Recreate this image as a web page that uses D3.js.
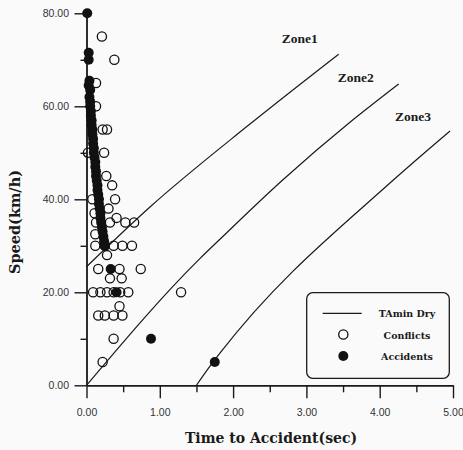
<!DOCTYPE html>
<html>
<head>
<meta charset="utf-8">
<script src="https://cdn.jsdelivr.net/npm/d3@7"></script>
<style>
  body { margin: 0; background: #fafafa; }
  .tick text { font-family: "Liberation Sans", Arial, sans-serif; font-size: 10.5px; fill: #333; }
</style>
</head>
<body>
<div id="chart"></div>
<script>
// conflicts (open circles): [time to accident sec, speed km/h]
var conflicts = [
  [0.21, 75], [0.38, 70], [0.13, 65], [0.13, 60], [0.22, 55], [0.28, 55],
  [0.02, 50], [0.24, 50], [0.27, 45], [0.35, 43], [0.08, 40], [0.39, 40],
  [0.11, 37], [0.30, 38], [0.41, 36], [0.13, 35], [0.32, 35], [0.53, 35],
  [0.65, 35], [0.12, 32.5], [0.12, 30], [0.25, 30], [0.37, 30], [0.49, 30],
  [0.62, 30], [0.28, 28], [0.16, 25], [0.45, 25], [0.74, 25], [0.32, 23],
  [0.48, 23], [0.09, 20], [0.19, 20], [0.28, 20], [0.37, 20], [0.46, 20],
  [0.57, 20], [1.29, 20], [0.45, 17], [0.16, 15], [0.25, 15], [0.37, 15],
  [0.49, 15], [0.37, 10], [0.22, 5]
];

// accidents (filled circles)
var accidents = [
  [0.01, 80], [0.03, 71.5], [0.03, 70], [0.04, 65.5], [0.03, 64.5], [0.05, 63.5],
  [0.04, 62], [0.05, 61], [0.05, 60], [0.06, 59], [0.06, 58], [0.07, 57],
  [0.07, 56], [0.08, 55], [0.08, 54], [0.09, 53], [0.09, 52], [0.10, 51],
  [0.10, 50], [0.11, 49], [0.12, 48], [0.12, 47], [0.13, 46], [0.13, 45],
  [0.14, 44], [0.15, 43], [0.15, 42], [0.16, 41], [0.17, 40], [0.17, 39],
  [0.18, 38], [0.19, 37], [0.19, 36], [0.20, 35], [0.21, 34], [0.22, 33],
  [0.23, 32], [0.24, 31], [0.25, 30], [0.33, 25], [0.41, 20], [0.88, 10],
  [1.75, 5]
];

// TAmin Dry boundary curves
var zone1 = [[0, 25.5], [0.87, 38.4], [2.2, 55.8], [3.44, 71.2]];
var zone2 = [[0, 0], [1.55, 27.3], [1.82, 31.4], [2.68, 44.2], [3.59, 56.5], [4.26, 64.8]];
var zone3 = [[1.5, 0], [1.68, 4.0], [1.82, 6.9], [4.19, 44.2], [4.96, 54.7]];
var zoneNames = ['Zone1', 'Zone2', 'Zone3'];

var xTicks = [0, 1, 2, 3, 4, 5];
var xMinor = [0.5, 1.5, 2.5, 3.5, 4.5];
var yTicks = [0, 20, 40, 60, 80];
var yMinor = [10, 30, 50, 70];

var width = 463, height = 450;
var margin = {top: 13.3, right: 10, bottom: 64.7, left: 86.5};
var w = width - margin.left - margin.right;
var h = height - margin.top - margin.bottom;

var svg = d3.select('#chart').append('svg').attr('width', width).attr('height', height);
var g = svg.append('g').attr('transform', 'translate(' + margin.left + ',' + margin.top + ')');

var x = d3.scaleLinear().domain([0, 5]).range([0, w]);
var y = d3.scaleLinear().domain([0, 80]).range([h, 0]);

var fmt = d3.format('.2f');

function styleAxis(sel) {
  sel.selectAll('path, line').attr('stroke', '#1a1a1a').attr('stroke-width', 1.4);
}

g.append('g').attr('transform', 'translate(0,' + h + ')')
  .call(d3.axisBottom(x).tickValues(xMinor).tickSize(7).tickSizeOuter(0).tickFormat(''))
  .call(styleAxis);
g.append('g').attr('transform', 'translate(0,' + h + ')')
  .call(d3.axisBottom(x).tickValues(xTicks).tickSize(13).tickSizeOuter(0).tickPadding(10).tickFormat(fmt))
  .call(styleAxis);
g.append('g')
  .call(d3.axisLeft(y).tickValues(yMinor).tickSize(6).tickSizeOuter(0).tickFormat(''))
  .call(styleAxis);
g.append('g')
  .call(d3.axisLeft(y).tickValues(yTicks).tickSize(12).tickSizeOuter(0).tickPadding(5.5).tickFormat(fmt))
  .call(styleAxis);

// boundary curves
var line = d3.line()
  .x(function(d) { return x(d[0]); })
  .y(function(d) { return y(d[1]); })
  .curve(d3.curveMonotoneX);

g.selectAll('.zone')
  .data([zone1, zone2, zone3])
  .enter().append('path')
  .attr('class', 'zone')
  .attr('d', line)
  .attr('fill', 'none')
  .attr('stroke', '#1a1a1a')
  .attr('stroke-width', 1.2);

// zone labels sit above the upper end of each curve
var zoneLabelPos = [[-57, -11], [-61, -2], [-55, -10]];
g.selectAll('.zlabel')
  .data([zone1, zone2, zone3])
  .enter().append('text')
  .attr('x', function(d, i) { var p = d[d.length - 1]; return x(p[0]) + zoneLabelPos[i][0]; })
  .attr('y', function(d, i) { var p = d[d.length - 1]; return y(p[1]) + zoneLabelPos[i][1]; })
  .attr('font-family', '"Liberation Serif", "Times New Roman", serif')
  .attr('font-weight', 'bold')
  .attr('font-size', 13.5)
  .attr('fill', '#1a1a1a')
  .text(function(d, i) { return zoneNames[i]; });

g.selectAll('.conf')
  .data(conflicts)
  .enter().append('circle')
  .attr('cx', function(d) { return x(d[0]); })
  .attr('cy', function(d) { return y(d[1]); })
  .attr('r', 4.6)
  .attr('fill', 'none')
  .attr('stroke', '#111')
  .attr('stroke-width', 1.3);

g.selectAll('.acc')
  .data(accidents)
  .enter().append('circle')
  .attr('cx', function(d) { return x(d[0]); })
  .attr('cy', function(d) { return y(d[1]); })
  .attr('r', 5)
  .attr('fill', '#111');

// axis titles
var titleFont = '"DejaVu Serif", serif';
svg.append('text')
  .attr('x', 271).attr('y', 443)
  .attr('text-anchor', 'middle')
  .attr('font-family', titleFont).attr('font-weight', 'bold').attr('font-size', 14)
  .attr('fill', '#1a1a1a')
  .text('Time to Accident(sec)');
svg.append('text')
  .attr('transform', 'translate(20,222) rotate(-90)')
  .attr('text-anchor', 'middle')
  .attr('font-family', titleFont).attr('font-weight', 'bold').attr('font-size', 14.5)
  .attr('fill', '#1a1a1a')
  .text('Speed(km/h)');

// legend
var legend = svg.append('g');
legend.append('rect')
  .attr('x', 306.7).attr('y', 292.7).attr('width', 142.6).attr('height', 85.6)
  .attr('rx', 6)
  .attr('fill', 'none').attr('stroke', '#1a1a1a').attr('stroke-width', 1.3);
legend.append('line')
  .attr('x1', 322.7).attr('x2', 361.7).attr('y1', 313.3).attr('y2', 313.3)
  .attr('stroke', '#1a1a1a').attr('stroke-width', 1.2);
legend.append('circle')
  .attr('cx', 343.3).attr('cy', 334.5).attr('r', 4.6)
  .attr('fill', 'none').attr('stroke', '#111').attr('stroke-width', 1.3);
legend.append('circle')
  .attr('cx', 343.3).attr('cy', 356).attr('r', 5)
  .attr('fill', '#111');
legend.selectAll('.ltext')
  .data(['TAmin Dry', 'Conflicts', 'Accidents'])
  .enter().append('text')
  .attr('x', 407)
  .attr('y', function(d, i) { return 317 + i * 21.5; })
  .attr('text-anchor', 'middle')
  .attr('font-family', titleFont).attr('font-weight', 'bold').attr('font-size', 9.5)
  .attr('fill', '#1a1a1a')
  .text(function(d) { return d; });
</script>
</body>
</html>
